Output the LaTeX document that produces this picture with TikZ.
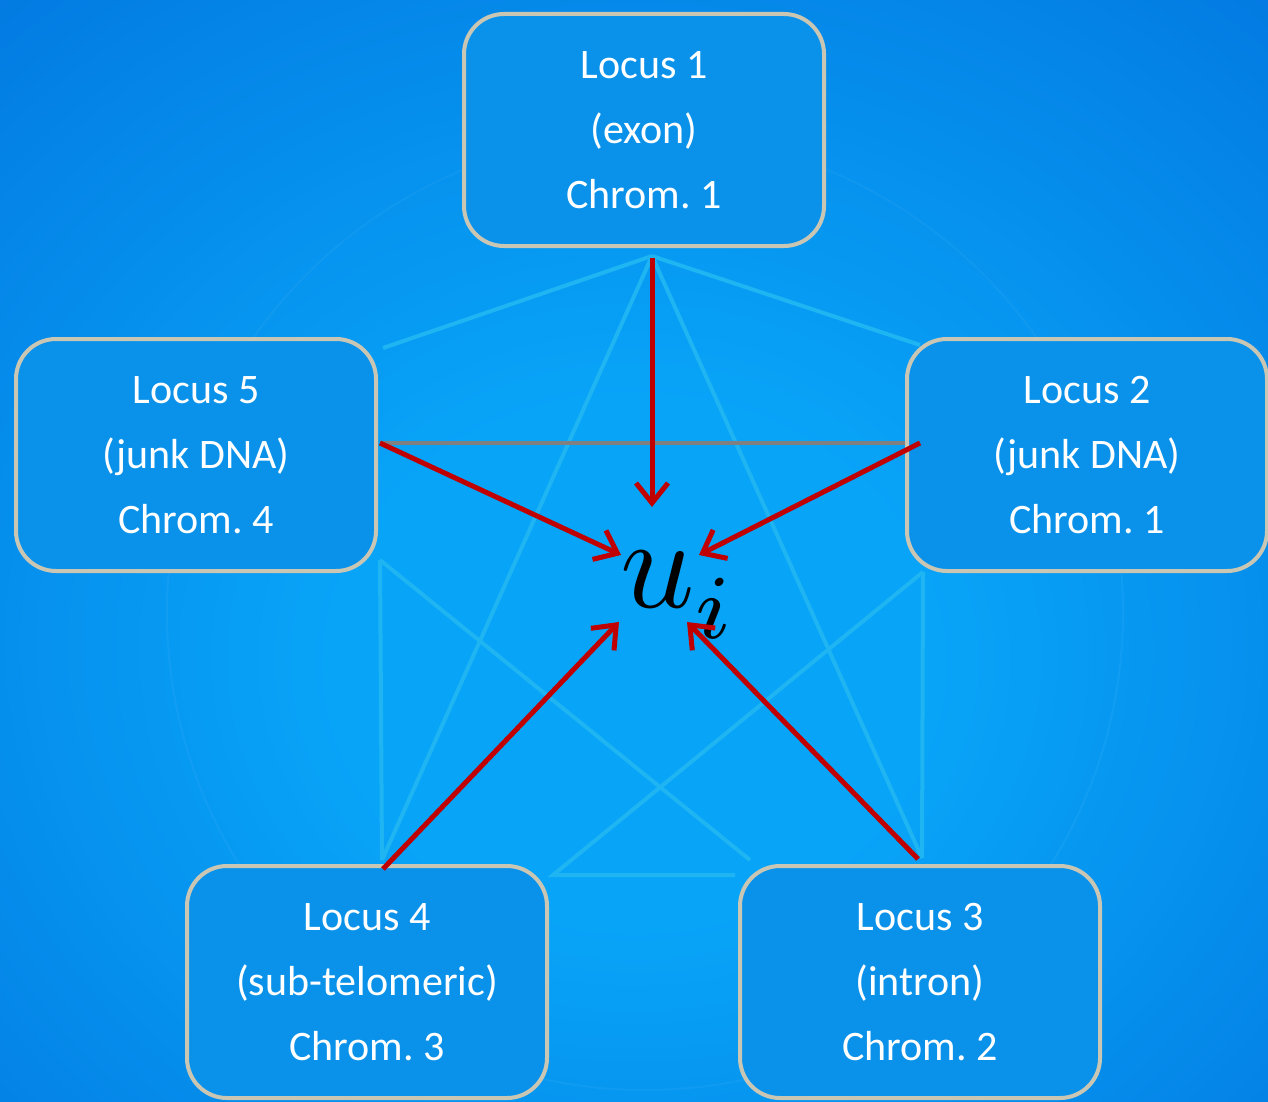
\documentclass[tikz,border=0pt]{standalone}
\usepackage{graphicx}
\usepackage{fontspec}
\setmainfont{Carlito}
\usetikzlibrary{arrows.meta}

\definecolor{bgin}{HTML}{08A4F8}
\definecolor{bgout}{HTML}{0274DE}
\definecolor{boxfill}{HTML}{0A92EA}
\definecolor{boxedge}{HTML}{C9C6B4}
\definecolor{faint}{HTML}{1FB4F2}
\definecolor{linkgray}{HTML}{808080}
\definecolor{arrowred}{HTML}{C00000}

\pgfdeclareradialshading{glow}{\pgfpoint{0bp}{-6bp}}{%
  color(0bp)=(bgin); color(12bp)=(bgin); color(42bp)=(bgout); color(80bp)=(bgout)}

\tikzset{
  locus/.style={draw=boxedge, line width=4pt, fill=boxfill, rounded corners=40pt,
    minimum width=360pt, minimum height=232pt, text=white, align=center,
    font=\fontsize{42}{65}\selectfont\frenchspacing, inner sep=0pt},
  web/.style={draw=faint, line width=4pt},
  tie/.style={draw=linkgray, line width=4pt},
  pull/.style={draw=arrowred, line width=5pt,
    -{Straight Barb[length=20pt,width=32pt,line width=5pt]}}
}

\begin{document}
\begin{tikzpicture}[x=1pt, y=-1pt]
  \useasboundingbox (0,0) rectangle (1268,1102);
  % backdrop
  \shade[shading=glow] (0,0) rectangle (1268,1102);
  \draw[white, opacity=0.04, line width=2pt] (645,612) circle[radius=478];

  % anchor points of the background web
  \coordinate (pT)  at (652,256);
  \coordinate (pL1) at (383,348);
  \coordinate (pR1) at (920,345);
  \coordinate (pBL) at (382,860);
  \coordinate (pBR) at (922,858);
  \coordinate (pL2) at (380,560);
  \coordinate (pR2) at (923,572);
  \coordinate (pX)  at (750,860);
  \coordinate (pY)  at (553,875);
  \coordinate (pZ)  at (735,875);
  \coordinate (gL)  at (380,443);
  \coordinate (gR)  at (920,443);

  % background web
  \draw[web] (pT) -- (pL1);
  \draw[web] (pT) -- (pR1);
  \draw[web] (pT) -- (pBL);
  \draw[web] (pT) -- (pBR);
  \draw[web] (pL2) -- (pBL);
  \draw[web] (pR2) -- (pBR);
  \draw[web] (pL2) -- (pX);
  \draw[web] (pR2) -- (pY) -- (pZ);
  \draw[tie] (gL) -- (gR);

  % loci
  \node[locus] (l1) at (644,130)  {Locus 1\\(exon)\\Chrom. 1};
  \node[locus] (l2) at (1087,455) {Locus 2\\(junk DNA)\\Chrom. 1};
  \node[locus] (l5) at (196,455)  {Locus 5\\(junk DNA)\\Chrom. 4};
  \node[locus] (l4) at (367,982)  {Locus 4\\(sub-telomeric)\\Chrom. 3};
  \node[locus] (l3) at (920,982)  {Locus 3\\(intron)\\Chrom. 2};

  % central variable
  \node[anchor=base west, inner sep=0pt] (ui) at (620,607)
    {\scalebox{13}{$u\sb{\raisebox{-0.9pt}{$\scriptstyle i$}}$}};

  % arrow ends around the centre
  \coordinate (a1s) at (652,258);
  \coordinate (a1e) at (652,507);
  \coordinate (a4s) at (383,869);
  \coordinate (a4e) at (619,622);
  \coordinate (a3s) at (918,859);
  \coordinate (a3e) at (687,622);
  \coordinate (a5e) at (621,555);
  \coordinate (a2e) at (699,555);

  \draw[pull] (a1s) -- (a1e);
  \draw[pull] (gL) -- (a5e);
  \draw[pull] (gR) -- (a2e);
  \draw[pull] (a4s) -- (a4e);
  \draw[pull] (a3s) -- (a3e);
\end{tikzpicture}
\end{document}
